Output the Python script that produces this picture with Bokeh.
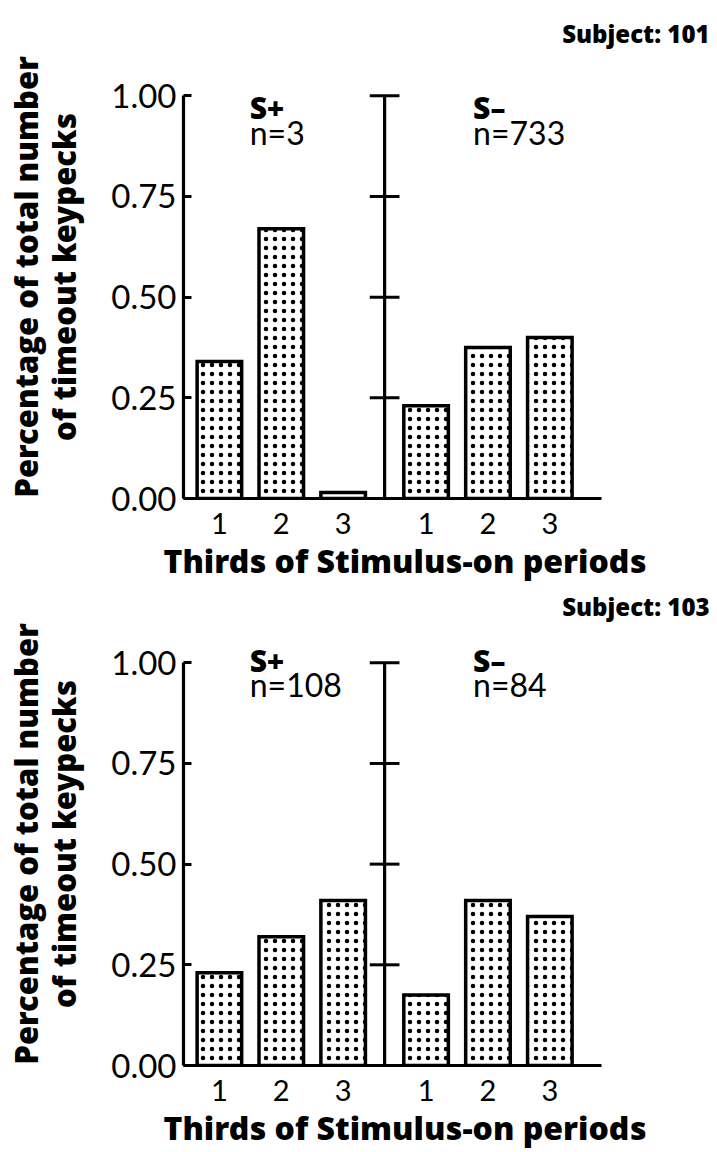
from bokeh.plotting import figure
from bokeh.models import Range1d, Title, FixedTicker, Label
from bokeh.layouts import column
from bokeh.embed import file_html
from bokeh.resources import INLINE

# ---------------- data ----------------
thirds = ["1", "2", "3"]
y_ticks = [0.0, 0.25, 0.50, 0.75, 1.00]
y_tick_labels = ["0.00", "0.25", "0.50", "0.75", "1.00"]
conditions = ["S+", "S\u2013"]
x_title = "Thirds of Stimulus-on periods"
y_title = ["Percentage of total number", "of timeout keypecks"]

subject_101 = "Subject: 101"
s101_plus = [0.34, 0.67, 0.015]
s101_minus = [0.23, 0.375, 0.40]
s101_n = ["n=3", "n=733"]

subject_103 = "Subject: 103"
s103_plus = [0.23, 0.32, 0.41]
s103_minus = [0.175, 0.41, 0.37]
s103_n = ["n=108", "n=84"]

# ---------------- layout constants ----------------
PLUS_START = 0.58
MINUS_START = 3.92
DIVIDER = 3.25
BAR_W = 0.72
BOLD = "Open Sans ExtraBold"
REG = "Lato"


def make_panel(subject, plus_vals, minus_vals, n_labels, height, top_border,
               left_border, text_y, title_standoff):
    plus_x = [PLUS_START + i for i in range(len(thirds))]
    minus_x = [MINUS_START + i for i in range(len(thirds))]

    p = figure(width=717, height=height, x_range=Range1d(0, 8.5), y_range=Range1d(0, 1.1),
               output_backend="svg", toolbar_location=None,
               min_border_left=left_border, min_border_right=8,
               min_border_top=top_border, min_border_bottom=87)
    p.outline_line_color = None
    p.xgrid.visible = False
    p.ygrid.visible = False
    p.background_fill_color = "white"
    p.border_fill_color = "white"

    # bars
    for xs, vals in ((plus_x, plus_vals), (minus_x, minus_vals)):
        p.vbar(x=xs, top=vals, bottom=0, width=BAR_W, fill_color="white",
               line_color="black", line_width=3.5, line_join="miter",
               hatch_pattern="dot", hatch_color="black", hatch_scale=9,
               hatch_weight=2.6, hatch_alpha=1.0)

    # y axis
    yax = p.yaxis[0]
    yax.ticker = FixedTicker(ticks=y_ticks)
    yax.major_label_overrides = {t: l for t, l in zip(y_ticks, y_tick_labels)}
    yax.bounds = (0, 1)
    yax.axis_line_width = 3.2
    yax.major_tick_line_width = 3
    yax.major_tick_in = 8
    yax.major_tick_out = 0
    yax.minor_tick_line_color = None
    yax.major_label_standoff = 7
    yax.major_label_text_font = REG
    yax.major_label_text_font_size = "33px"
    yax.major_label_text_color = "black"
    yax.axis_label = y_title[0] + "\n" + y_title[1]
    yax.axis_label_text_font = BOLD
    yax.axis_label_text_font_style = "bold"
    yax.axis_label_text_font_size = "31px"
    yax.axis_label_text_color = "black"
    yax.axis_label_standoff = 23
    yax.axis_label_text_line_height = 0.92

    # x axis
    xax = p.xaxis[0]
    xt = plus_x + minus_x
    xax.ticker = FixedTicker(ticks=xt)
    xax.major_label_overrides = {t: l for t, l in zip(xt, thirds + thirds)}
    xax.bounds = (0, 6.75)
    xax.axis_line_width = 3.2
    xax.major_tick_line_color = None
    xax.minor_tick_line_color = None
    xax.major_label_standoff = 8
    xax.major_label_text_font = REG
    xax.major_label_text_font_size = "29px"
    xax.major_label_text_color = "black"

    # middle divider axis
    p.segment(x0=[DIVIDER], y0=[0], x1=[DIVIDER], y1=[y_ticks[-1]],
              line_color="black", line_width=3.2)
    tk = y_ticks[1:]
    p.segment(x0=[DIVIDER - 0.24] * len(tk), y0=tk, x1=[DIVIDER + 0.24] * len(tk), y1=tk,
              line_color="black", line_width=3)

    # condition labels
    for cx, cond, nlab in ((1.07, conditions[0], n_labels[0]),
                           (4.68, conditions[1], n_labels[1])):
        p.add_layout(Label(x=cx, y=text_y, text=cond, text_font=BOLD,
                           text_font_style="bold", text_font_size="30px",
                           text_color="black", text_baseline="alphabetic"))
        p.add_layout(Label(x=cx, y=text_y - 0.06, text=nlab, text_font=REG,
                           text_font_size="32px", text_color="black",
                           text_baseline="alphabetic"))

    # subject title (top right)
    p.add_layout(Title(text=subject, align="right", text_font=BOLD,
                       text_font_style="bold", text_font_size="24px",
                       text_color="black", standoff=title_standoff), "above")

    # x title
    p.add_layout(Title(text=x_title, align="left", offset=-20, text_font=BOLD,
                       text_font_style="bold", text_font_size="32px",
                       text_color="black", standoff=0), "below")
    return p


p1 = make_panel(subject_101, s101_plus, s101_minus, s101_n, 585, 55, 183, 0.97, 12)
p2 = make_panel(subject_103, s103_plus, s103_minus, s103_n, 567, 37, 180, 1.005, 0)

layout = column(p1, p2, spacing=0)
open("out.html", "w").write(file_html(layout, INLINE))
